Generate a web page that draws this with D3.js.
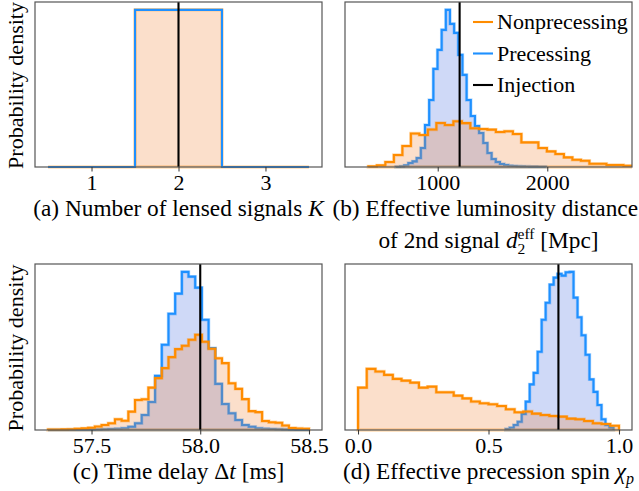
<!DOCTYPE html>
<html>
<head>
<meta charset="utf-8">
<script src="https://cdn.jsdelivr.net/npm/d3@7"></script>
<style>
  body { margin: 0; background: #fff; }
  svg { display: block; }
  text { font-family: "Liberation Serif", "Times New Roman", Times, serif; fill: #000; white-space: pre; }
</style>
</head>
<body>
<svg id="fig" width="639" height="491"></svg>
<script>
// ---------- (a) number of lensed signals K ----------
const kBinEdges = [0.5, 1.5, 2.5, 3.5];
const kDensity = [0, 1, 0];
const kInjection = 2;
const kTicks = [1, 2, 3];

// ---------- (b) effective luminosity distance of 2nd signal [Mpc] ----------
const dNonprecRange = [367, 2850];
const dNonprec = [0.6, 1.6, 5, 12, 21, 33.5, 32, 37.5, 44, 42, 45.7, 43.8, 38.7, 38, 37.3, 35,
                  35.7, 33, 24.6, 24.6, 19, 15.6, 13, 9.6, 7.3, 6.3, 3.3, 3.3, 2, 2, 1.3, 1.3];
const dPrecRange = [618, 1986];
const dPrec = [0.3, 0.6, 1.6, 4, 5.6, 9, 19, 42, 67, 98, 117, 137, 157, 143, 134, 112, 92, 67,
               51, 41, 34, 24, 14, 8, 5, 3, 2, 1.2, 1, 0.8, 0.6, 0.5, 0.4, 0.4, 0.3, 0.3];
const dInjection = 1200;
const dTicks = [1000, 2000];

// ---------- (c) time delay [ms] ----------
const tRange = [57.30, 58.50];
const tNonprec = [0.5, 0.5, 0.6, 0.8, 1.2, 1.6, 2.3, 3.5, 5, 6.7, 10.7, 9.3, 18.3, 30, 30.7, 42.3,
                  51.7, 61.7, 72.7, 80.7, 84, 90, 95, 88, 81, 71.5, 66.7, 46.7, 41, 30.8, 18.8,
                  17.8, 9, 7.8, 7.3, 4.5, 2, 1.5, 1.2];
const tPrec = [0, 0, 0, 0.2, 0.3, 0.3, 0.4, 0.5, 0.7, 1.0, 1.3, 1.7, 3.3, 6.7, 15, 28, 54, 85,
               116, 136, 157.7, 153, 142, 110, 81.7, 46, 26, 16.7, 10, 5, 3.3, 1.7, 1.3, 1, 0.7,
               0.5, 0.3, 0, 0];
const tInjection = 58.0;
const tTicks = [57.5, 58.0, 58.5];

// ---------- (d) effective precession spin chi_p ----------
const chiNonprecRange = [0, 1];
const chiNonprec = [42.3, 61, 58.3, 55, 51, 49.3, 47.3, 42.3, 43.3, 37.7, 37.7, 34.3, 31.5, 28.5,
                    26.7, 25.7, 24, 20.7, 17.7, 18.5, 16.3, 15, 14, 13.3, 11.3, 10.7, 9, 6.7, 6, 4.3];
const chiPrecRange = [0.566, 0.979];
const chiPrec = [1, 2.3, 5, 8.3, 16, 28.3, 45.5, 57, 78, 110, 127, 145, 152, 155.7, 154, 157.3,
                 157.7, 132, 112.5, 94.5, 75, 50.5, 38, 25, 10.7, 5, 2.3];
const chiInjection = 0.768;
const chiTicks = [0, 0.5, 1];

// ---------- legend ----------
const legendLabels = ["Nonprecessing", "Precessing", "Injection"];

// ---------- styling ----------
const C = {
  nonLine: "#ff8c00", nonFill: "rgba(240,128,48,0.25)",
  preLine: "#1e90ff", preFill: "rgba(65,105,225,0.25)",
  inj: "#000", spine: "#555"
};
const FS = 22;        // ticks, y label, legend
const FS_CAP = 23.3;  // captions under each panel
const FIG_W = 639;

function binEdges(range, n) {
  return d3.range(n + 1).map(i => range[0] + i * (range[1] - range[0]) / n);
}
function stepPoints(edges, vals) {
  const pts = [[edges[0], 0]];
  vals.forEach((v, i) => { pts.push([edges[i], v]); pts.push([edges[i + 1], v]); });
  pts.push([edges[edges.length - 1], 0]);
  return pts;
}

const svg = d3.select("#fig");

// one line of mixed roman / italic / sub- and superscript text, centred on cx
function richText(parent, cx, baseline, segs) {
  const text = parent.append("text").attr("font-size", FS_CAP);
  let cursor = 0, lastStart = 0, lastW = 0;
  const spans = [];
  segs.forEach(s => {
    const t = text.append("tspan")
      .attr("y", baseline + (s.shift || 0))
      .attr("font-size", s.size || FS_CAP)
      .attr("font-style", s.italic ? "italic" : "normal")
      .text(s.t);
    t.attr("x", 0);
    const w = t.node().getComputedTextLength();
    let sx;
    if (s.stack) {
      sx = lastStart;
      cursor = lastStart + Math.max(lastW, w);
    } else {
      sx = cursor;
      lastStart = cursor; lastW = w;
      cursor += w;
    }
    spans.push([t, sx]);
  });
  // keep the line inside the figure
  let left = cx - cursor / 2;
  left = Math.min(left, FIG_W - 1 - cursor);
  spans.forEach(([t, sx]) => t.attr("x", left + sx));
}

const panels = [
  {
    id: "a", box: [35, 2, 322, 167], xDomain: [0.35, 3.65], ticks: kTicks, fmt: d3.format("d"),
    inj: kInjection, ylabel: true,
    layers: [
      { edges: kBinEdges, vals: kDensity, fill: C.nonFill, line: C.nonLine },
      { edges: kBinEdges, vals: kDensity, fill: null, line: C.preLine }
    ],
    caption: [[{ t: "(a) Number of lensed signals " }, { t: "K", italic: true }]]
  },
  {
    id: "b", box: [345, 2, 632, 167], xDomain: [154, 2773], ticks: dTicks, fmt: d3.format("d"),
    inj: dInjection, legend: true,
    layers: [
      { edges: binEdges(dPrecRange, dPrec.length), vals: dPrec, fill: C.preFill, line: C.preLine },
      { edges: binEdges(dNonprecRange, dNonprec.length), vals: dNonprec, fill: C.nonFill, line: C.nonLine }
    ],
    caption: [
      [{ t: "(b) Effective luminosity distance" }],
      [{ t: "of 2nd signal " }, { t: "d", italic: true },
       { t: "eff", size: 15.5, shift: -9.5 }, { t: "2", size: 15.5, shift: 6, stack: true },
       { t: " [Mpc]" }]
    ]
  },
  {
    id: "c", box: [35, 264, 322, 430], xDomain: [57.24, 58.56], ticks: tTicks, fmt: d3.format(".1f"),
    inj: tInjection, ylabel: true,
    layers: [
      { edges: binEdges(tRange, tPrec.length), vals: tPrec, fill: C.preFill, line: C.preLine },
      { edges: binEdges(tRange, tNonprec.length), vals: tNonprec, fill: C.nonFill, line: C.nonLine }
    ],
    caption: [[{ t: "(c) Time delay Δ" }, { t: "t", italic: true }, { t: " [ms]" }]]
  },
  {
    id: "d", box: [345, 264, 632, 430], xDomain: [-0.05, 1.05], ticks: chiTicks, fmt: d3.format(".1f"),
    inj: chiInjection,
    layers: [
      { edges: binEdges(chiPrecRange, chiPrec.length), vals: chiPrec, fill: C.preFill, line: C.preLine },
      { edges: binEdges(chiNonprecRange, chiNonprec.length), vals: chiNonprec, fill: C.nonFill, line: C.nonLine }
    ],
    caption: [[{ t: "(d) Effective precession spin " }, { t: "χ", italic: true },
               { t: "p", italic: true, size: 16, shift: 5 }]]
  }
];

panels.forEach(p => {
  const [x0, y0, x1, y1] = p.box;
  const x = d3.scaleLinear().domain(p.xDomain).range([x0, x1]);
  const ymax = d3.max(p.layers, l => d3.max(l.vals)) * 1.05;
  const y = d3.scaleLinear().domain([0, ymax]).range([y1, y0]);
  const g = svg.append("g").attr("class", "panel-" + p.id);

  g.append("clipPath").attr("id", "clip-" + p.id)
    .append("rect").attr("x", x0).attr("y", y0 - 2).attr("width", x1 - x0).attr("height", y1 - y0 + 4);
  const plot = g.append("g").attr("clip-path", `url(#clip-${p.id})`);

  const area = d3.area().x(d => x(d[0])).y0(y(0)).y1(d => y(d[1]));
  const line = d3.line().x(d => x(d[0])).y(d => y(d[1]));

  p.layers.forEach(l => {
    const pts = stepPoints(l.edges, l.vals);
    if (l.fill) {
      plot.append("path").attr("d", area(pts)).attr("fill", l.fill)
        .attr("stroke", l.line).attr("stroke-opacity", 0.3).attr("stroke-width", 3.4)
        .attr("stroke-linejoin", "miter");
    }
    plot.append("path").attr("d", line(pts)).attr("fill", "none")
      .attr("stroke", l.line).attr("stroke-width", 2.1).attr("stroke-linejoin", "miter");
  });

  // injected value
  plot.append("line").attr("x1", x(p.inj)).attr("x2", x(p.inj)).attr("y1", y0).attr("y2", y1)
    .attr("stroke", C.inj).attr("stroke-width", 2.1);

  // frame
  g.append("rect").attr("x", x0).attr("y", y0).attr("width", x1 - x0).attr("height", y1 - y0)
    .attr("fill", "none").attr("stroke", C.spine).attr("stroke-width", 1.2);

  // x axis ticks
  const axis = d3.axisBottom(x).tickValues(p.ticks).tickFormat(p.fmt).tickSizeInner(4.5).tickSizeOuter(0).tickPadding(3);
  const ax = g.append("g").attr("transform", `translate(0,${y1})`).call(axis);
  ax.select(".domain").remove();
  ax.selectAll(".tick line").attr("stroke", "#333").attr("stroke-width", 1);
  ax.selectAll(".tick text").attr("font-size", FS).attr("fill", "#000")
    .attr("font-family", '"Liberation Serif","Times New Roman",serif')
    .attr("dy", null).attr("y", 23.3);

  // y label
  if (p.ylabel) {
    g.append("text").attr("transform", `translate(23,${(y0 + y1) / 2 + 1}) rotate(-90)`)
      .attr("text-anchor", "middle").attr("font-size", FS).text("Probability density");
  }

  // caption below the axis
  const cx = (x0 + x1) / 2;
  p.caption.forEach((segs, i) => richText(g, cx, y1 + 49 + i * 32, segs));

  // legend
  if (p.legend) {
    const colors = [C.nonLine, C.preLine, C.inj];
    legendLabels.forEach((lab, i) => {
      const ly = 22 + i * 31.5;
      g.append("line").attr("x1", 473).attr("x2", 493).attr("y1", ly).attr("y2", ly)
        .attr("stroke", colors[i]).attr("stroke-width", 2.1);
      g.append("text").attr("x", 497).attr("y", ly + 7.3).attr("font-size", FS).text(lab);
    });
  }
});
</script>
</body>
</html>
